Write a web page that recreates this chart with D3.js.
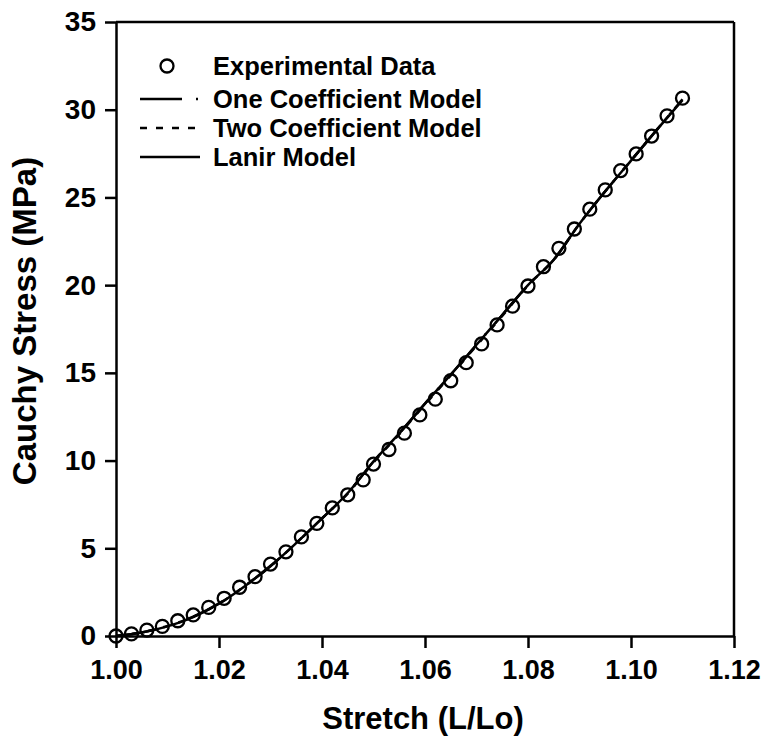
<!DOCTYPE html>
<html>
<head>
<meta charset="utf-8">
<script src="https://cdn.jsdelivr.net/npm/d3@7"></script>
<style>
  body { margin: 0; background: #fff; }
  text { font-family: "Liberation Sans", Arial, sans-serif; font-weight: bold; }
</style>
</head>
<body>
<div id="chart"></div>
<script>
var w = 762;
var h = 747;

// experimental points
var expStretch = [1.000, 1.003, 1.006, 1.009, 1.012, 1.015, 1.018, 1.021, 1.024, 1.027,
                  1.030, 1.033, 1.036, 1.039, 1.042, 1.045, 1.048, 1.050, 1.053, 1.056,
                  1.059, 1.062, 1.065, 1.068, 1.071, 1.074, 1.077, 1.080, 1.083, 1.086,
                  1.089, 1.092, 1.095, 1.098, 1.101, 1.104, 1.107, 1.110];
var expStress = [0, 0.12, 0.34, 0.55, 0.87, 1.2, 1.63, 2.15, 2.78, 3.38,
                 4.1, 4.8, 5.65, 6.42, 7.3, 8.05, 8.9, 9.8, 10.63, 11.56,
                 12.6, 13.5, 14.55, 15.58, 16.65, 17.73, 18.8, 19.95, 21.05, 22.1,
                 23.2, 24.33, 25.43, 26.53, 27.48, 28.5, 29.65, 30.66];

// model curves
var modelStretch = [1.000, 1.005, 1.010, 1.015, 1.020, 1.025, 1.030, 1.035, 1.040, 1.045,
                    1.050, 1.055, 1.060, 1.065, 1.070, 1.075, 1.080, 1.085, 1.090, 1.095,
                    1.100, 1.105, 1.110];
var oneCoef = [0, 0.2, 0.56, 1.1, 1.86, 2.85, 4.0, 5.3, 6.7, 8.15,
               9.95, 11.55, 13.25, 14.9, 16.6, 18.3, 20.0, 21.45, 23.5, 25.35,
               27.1, 28.85, 30.6];
var twoCoef = [0, 0.21, 0.57, 1.1, 1.85, 2.84, 3.98, 5.3, 6.7, 8.12,
               9.9, 11.5, 13.2, 14.85, 16.55, 18.25, 19.98, 21.45, 23.5, 25.35,
               27.1, 28.85, 30.6];
var lanir = [0, 0.2, 0.55, 1.08, 1.84, 2.84, 3.98, 5.3, 6.7, 8.15,
             9.95, 11.55, 13.25, 14.9, 16.6, 18.3, 20.0, 21.45, 23.5, 25.35,
             27.1, 28.85, 30.55];

var xTicks = [1.00, 1.02, 1.04, 1.06, 1.08, 1.10, 1.12];
var yTicks = [0, 5, 10, 15, 20, 25, 30, 35];

var legendLabels = ["Experimental Data", "One Coefficient Model", "Two Coefficient Model", "Lanir Model"];

var svg = d3.select("#chart").append("svg").attr("width", w).attr("height", h);

var x = d3.scaleLinear().domain([1.00, 1.12]).range([116, 734]);
var y = d3.scaleLinear().domain([0, 35]).range([636, 22]);

// frame (top + right)
svg.append("line").attr("x1", x(1.00)).attr("x2", x(1.12)).attr("y1", y(35)).attr("y2", y(35))
   .attr("stroke", "black").attr("stroke-width", 2.5);
svg.append("line").attr("x1", x(1.12)).attr("x2", x(1.12)).attr("y1", y(35)).attr("y2", y(0))
   .attr("stroke", "black").attr("stroke-width", 2.5);

var xAxis = svg.append("g").attr("transform", "translate(0," + y(0) + ")")
   .call(d3.axisBottom(x).tickValues(xTicks).tickFormat(d3.format(".2f")).tickSize(12).tickPadding(12).tickSizeOuter(0));
var yAxis = svg.append("g").attr("transform", "translate(" + x(1.00) + ",0)")
   .call(d3.axisLeft(y).tickValues(yTicks).tickSize(11).tickPadding(9).tickSizeOuter(0));

[xAxis, yAxis].forEach(function(g) {
  g.select(".domain").attr("stroke", "black").attr("stroke-width", 2.5);
  g.selectAll(".tick line").attr("stroke", "black").attr("stroke-width", 2.5);
  g.selectAll(".tick text").attr("fill", "black").attr("font-size", 27)
   .attr("font-family", "Liberation Sans, Arial, sans-serif").attr("font-weight", "bold");
});
yAxis.selectAll(".tick text").attr("font-size", 28);

// axis titles
svg.append("text").text("Stretch (L/Lo)")
   .attr("x", 423).attr("y", 729)
   .attr("text-anchor", "middle").attr("font-size", 31);
svg.append("text").text("Cauchy Stress (MPa)")
   .attr("transform", "translate(36," + ((y(0) + y(35)) / 2 - 8) + ") rotate(-90)")
   .attr("text-anchor", "middle").attr("font-size", 33);

// model lines
var modelLine = function(vals) {
  return d3.line()
    .x(function(d, i) { return x(modelStretch[i]); })
    .y(function(d) { return y(d); })
    .curve(d3.curveMonotoneX)(vals);
};

svg.append("path").attr("d", modelLine(lanir))
   .attr("fill", "none").attr("stroke", "black").attr("stroke-width", 2.5);
svg.append("path").attr("d", modelLine(twoCoef))
   .attr("fill", "none").attr("stroke", "black").attr("stroke-width", 2.5)
   .attr("stroke-dasharray", "7,9");
svg.append("path").attr("d", modelLine(oneCoef))
   .attr("fill", "none").attr("stroke", "black").attr("stroke-width", 2.5)
   .attr("stroke-dasharray", "42,14,2,14");

// experimental circles
svg.selectAll("circle.exp").data(expStress).enter().append("circle")
   .attr("class", "exp")
   .attr("cx", function(d, i) { return x(expStretch[i]); })
   .attr("cy", function(d) { return y(d); })
   .attr("r", 6.5)
   .attr("fill", "none").attr("stroke", "black").attr("stroke-width", 2.3);

// legend
var legY = [66, 99, 128, 157];
svg.append("circle").attr("cx", 167).attr("cy", legY[0]).attr("r", 6.5)
   .attr("fill", "none").attr("stroke", "black").attr("stroke-width", 2.3);
svg.append("line").attr("x1", 140).attr("x2", 200).attr("y1", legY[1]).attr("y2", legY[1])
   .attr("stroke", "black").attr("stroke-width", 2.5).attr("stroke-dasharray", "42,14,2,14");
svg.append("line").attr("x1", 140).attr("x2", 198).attr("y1", legY[2]).attr("y2", legY[2])
   .attr("stroke", "black").attr("stroke-width", 2.5).attr("stroke-dasharray", "7,9");
svg.append("line").attr("x1", 140).attr("x2", 200).attr("y1", legY[3]).attr("y2", legY[3])
   .attr("stroke", "black").attr("stroke-width", 2.5);

for (var i = 0; i < legendLabels.length; i = i + 1) {
  svg.append("text").text(legendLabels[i])
     .attr("x", 213).attr("y", legY[i] + 9)
     .attr("font-size", 25.5).attr("fill", "black");
}
</script>
</body>
</html>
